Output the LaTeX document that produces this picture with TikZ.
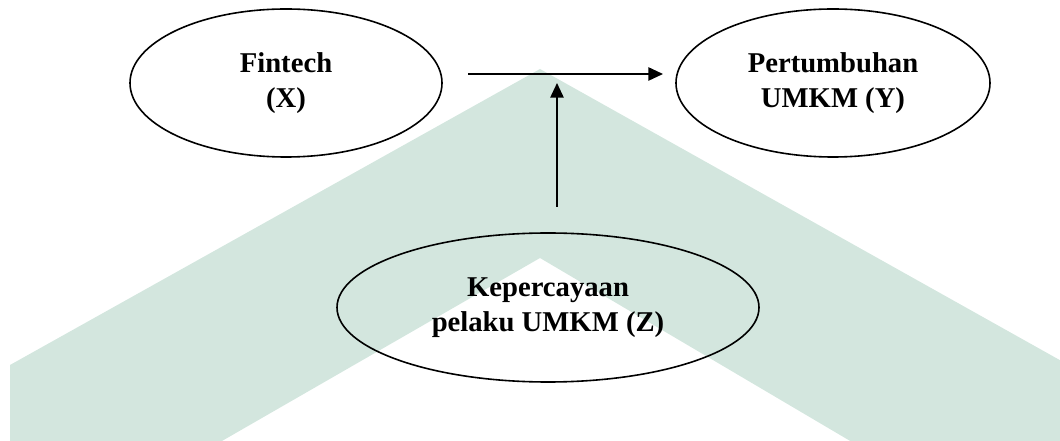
\documentclass[tikz,border=0pt]{standalone}
\usepackage{fontspec}
\setmainfont{Liberation Serif}
\usetikzlibrary{shapes.geometric,arrows.meta}
\definecolor{wm}{HTML}{D3E6DE}
\begin{document}
\begin{tikzpicture}[x=0.75pt,y=-0.75pt,
  var/.style={ellipse,draw=black,line width=1.2pt,inner sep=0pt,align=center,
    font=\fontsize{21.5}{26}\selectfont\bfseries},
  link/.style={line width=1.2pt,-{Triangle[length=11pt,width=10pt]}}]
\useasboundingbox (0,0) rectangle (1060,441);
% watermark
\fill[wm] (10,445) -- (10,365) -- (540,69) -- (1065,363) -- (1065,445)
  -- (857,445) -- (540,258) -- (215,445) -- cycle;
% variables
\node[var,minimum width=234pt,minimum height=111pt] (x) at (286,83) {Fintech\\(X)};
\node[var,minimum width=235.5pt,minimum height=111pt] (y) at (833,83) {Pertumbuhan\\UMKM (Y)};
\node[var,minimum width=316.5pt,minimum height=111.75pt] (z) at (548,307.5) {Kepercayaan\\pelaku UMKM (Z)};
% connectors
\coordinate (h1) at (468,74);
\coordinate (h2) at (663,74);
\coordinate (v1) at (557,207);
\coordinate (v2) at (557,83);
\draw[link] (h1) -- (h2);
\draw[link] (v1) -- (v2);
\end{tikzpicture}
\end{document}
